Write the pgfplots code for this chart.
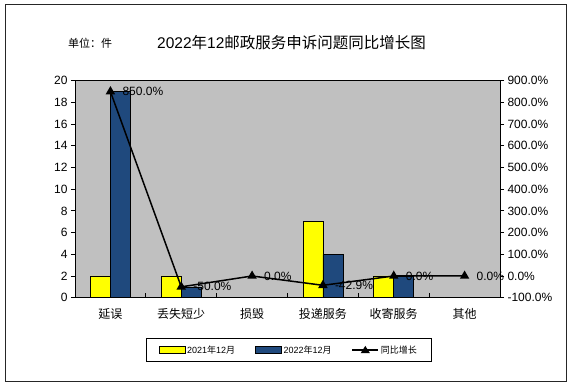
\documentclass[border=0pt]{standalone}
\usepackage{fontspec}
\setmainfont{Liberation Sans}
\newfontfamily\cjk{Noto Sans CJK SC}
\usepackage{pgfplots}
\pgfplotsset{compat=1.18}
\definecolor{y21}{RGB}{255,255,0}
\definecolor{b22}{RGB}{31,73,125}
\definecolor{bg}{RGB}{192,192,192}
\pgfplotsset{/pgf/number format/assume math mode=true}
\begin{document}
\begin{tikzpicture}
\path[use as bounding box] (0pt,0pt) rectangle (571pt,388pt);
\draw[line width=1pt, black!85] (5pt,6pt) rectangle (566pt,383pt);
\node[anchor=west, inner sep=0pt, font=\fontsize{11}{13}\selectfont\cjk] at (68pt,345pt) {单位：件};
\node[anchor=west, inner sep=0pt, font=\fontsize{15.5}{18}\selectfont] at (157pt,345pt) {2022{\cjk 年}12{\cjk 邮政服务申诉问题同比增长图}};
\begin{axis}[name=main,
  at={(75pt,90.3pt)}, anchor=south west, scale only axis, width=425pt, height=217pt,
  axis background/.style={fill=bg},
  axis line style={black, line width=0.8pt},
  ybar=0pt, bar width=20pt,
  ymin=0, ymax=20, ytick={0,2,...,20},
  xmin=-0.5, xmax=5.5, xtick={0,...,5},
  xticklabels={{\cjk 延误},{\cjk 丢失短少},{\cjk 损毁},{\cjk 投递服务},{\cjk 收寄服务},{\cjk 其他}},
  major x tick style={draw=none},
  ytick pos=left, xtick pos=bottom,
  tick align=outside, major tick length=4pt,
  tick style={black, line width=0.8pt},
  tick label style={font=\fontsize{12}{14}\selectfont},
  xticklabel style={yshift=-3pt},
  legend columns=3,
  legend style={at={(0.503,-0.241)}, anchor=center, draw=black, line width=0.6pt,
    font=\fontsize{9}{10}\selectfont, inner xsep=12pt, inner ysep=5pt,
    /tikz/every even column/.append style={column sep=18pt}},
]
\addplot[fill=y21, draw=black, line width=0.5pt,
  legend image code/.code={\draw[fill=y21,draw=black,line width=0.5pt] (0pt,-3.5pt) rectangle (26pt,3.5pt);}]
  coordinates {(0,2) (1,2) (2,0) (3,7) (4,2) (5,0)};
\addlegendentry{2021{\cjk 年}12{\cjk 月}}
\addplot[fill=b22, draw=black, line width=0.5pt,
  legend image code/.code={\draw[fill=b22,draw=black,line width=0.5pt] (0pt,-3.5pt) rectangle (26pt,3.5pt);}]
  coordinates {(0,19) (1,1) (2,0) (3,4) (4,2) (5,0)};
\addlegendentry{2022{\cjk 年}12{\cjk 月}}
\addlegendimage{black, line width=1.2pt,
  legend image code/.code={\draw[black,line width=1.2pt] (0pt,0pt) -- (26pt,0pt); \fill[black] (13pt,3pt) -- (9.5pt,-2.5pt) -- (16.5pt,-2.5pt) -- cycle;}}
\addlegendentry{{\cjk 同比增长}\hspace{14pt}}
\draw[black, line width=0.8pt] (axis cs:0.5,0) -- ++(0pt,5pt);
\draw[black, line width=0.8pt] (axis cs:1.5,0) -- ++(0pt,5pt);
\draw[black, line width=0.8pt] (axis cs:2.5,0) -- ++(0pt,5pt);
\draw[black, line width=0.8pt] (axis cs:3.5,0) -- ++(0pt,5pt);
\draw[black, line width=0.8pt] (axis cs:4.5,0) -- ++(0pt,5pt);
\end{axis}
\begin{axis}[
  at={(main.south west)}, anchor=south west, scale only axis, width=425pt, height=217pt,
  clip=false,
  ymin=-100, ymax=900, ytick={-100,0,...,900},
  xmin=-0.5, xmax=5.5,
  axis y line*=right, axis x line=none,
  axis line style={black, line width=0.8pt},
  tick align=outside, major tick length=4pt,
  tick style={black, line width=0.8pt},
  tick label style={font=\fontsize{12}{14}\selectfont},
  yticklabel={\pgfmathprintnumber[fixed,fixed zerofill,precision=1]{\tick}\%},
]
\addplot[black, line width=1.5pt, mark=triangle*, mark size=4pt,
  nodes near coords, point meta=explicit symbolic,
  every node near coord/.append style={anchor=west, xshift=8pt, font=\fontsize{12}{14}\selectfont, black}]
  coordinates {(0,850)[850.0\%] (1,-50)[-50.0\%] (2,0)[0.0\%] (3,-42.9)[-42.9\%] (4,0)[0.0\%] (5,0)[0.0\%]};
\end{axis}
\end{tikzpicture}
\end{document}
